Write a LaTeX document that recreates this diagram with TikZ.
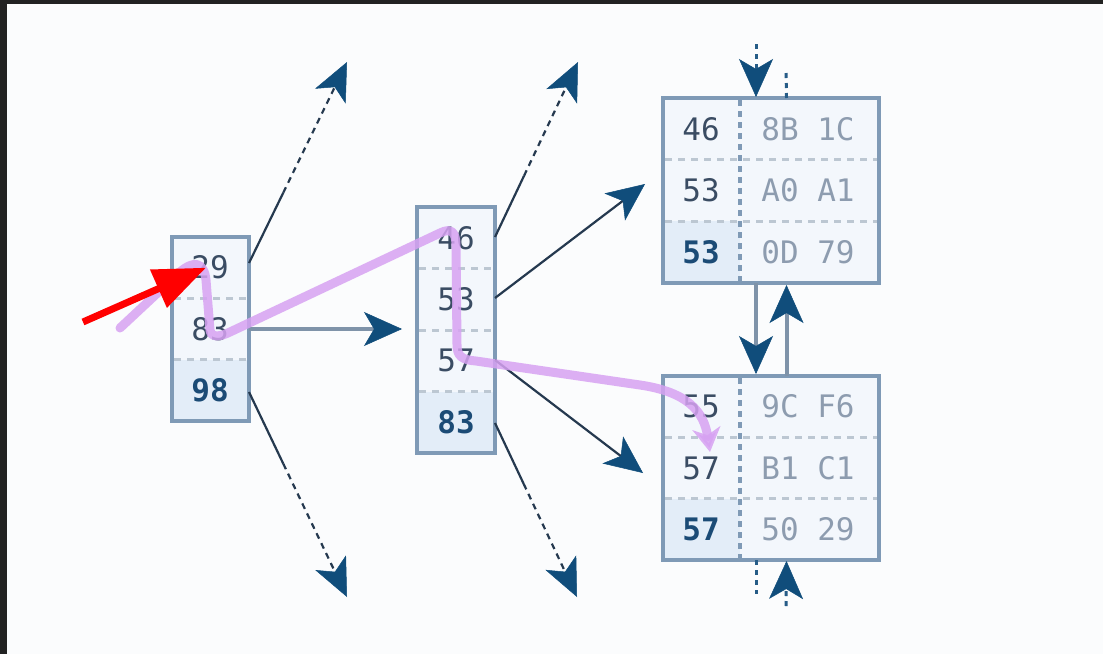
\documentclass[tikz,border=0pt]{standalone}
\usepackage{fontspec}
\usetikzlibrary{arrows.meta,calc}
\newfontfamily\keyfont{DejaVu Sans Mono}
\definecolor{bg}{HTML}{FBFCFD}
\definecolor{frame}{HTML}{222222}
\definecolor{boxline}{HTML}{7F9AB6}
\definecolor{boxfill}{HTML}{F3F7FC}
\definecolor{cellfill}{HTML}{E3EDF8}
\definecolor{sepline}{HTML}{BCC7D2}
\definecolor{keyc}{HTML}{3A4C63}
\definecolor{boldc}{HTML}{1B4B76}
\definecolor{hexc}{HTML}{8D9CAF}
\definecolor{linkc}{HTML}{25394F}
\definecolor{headc}{HTML}{104D7B}
\definecolor{shaftc}{HTML}{7F93A9}
\definecolor{pathc}{HTML}{D7A2F2}
\definecolor{markc}{HTML}{FF0000}
\begin{document}
\begin{tikzpicture}[x=1pt, y=-1pt,
  box/.style={fill=boxfill, inner sep=0pt, outer sep=0pt},
  boxedge/.style={draw=boxline, line width=3.5pt},
  key/.style={text=keyc, font=\keyfont\fontsize{31}{31}\selectfont, inner sep=0pt},
  boldkey/.style={key, text=boldc, font=\keyfont\bfseries\fontsize{31}{31}\selectfont},
  hex/.style={key, text=hexc},
  rowsep/.style={draw=sepline, line width=3pt, dash pattern=on 7pt off 6pt},
  colsep/.style={draw=boxline, line width=4pt, dash pattern=on 6pt off 5pt},
  tip/.style={-{Stealth[length=38pt, width=34pt, inset=10pt, line width=0.5pt, color=headc]}},
  link/.style={draw=linkc, line width=2.2pt},
  linkdash/.style={link, dash pattern=on 6pt off 5pt},
  shaft/.style={draw=shaftc, line width=4pt},
  ptr/.style={draw=headc!80!boxline, line width=3pt, dash pattern=on 5pt off 5pt},
  trail/.style={draw=pathc, line width=9pt, opacity=0.85, line cap=round, line join=round,
    -{Stealth[length=24pt, width=28pt, inset=7pt]}},
  pointer/.style={draw=markc, line width=7pt, -{Triangle[length=52pt, width=40pt]}}
]
% canvas with the dark frame on the top and left
\useasboundingbox (0,0) rectangle (1103,654);
\fill[frame] (0,0) rectangle (1103,654);
\fill[bg] (7,4) rectangle (1103,654);

% ---- boxes ----
\node[box, minimum width=77pt, minimum height=184pt] (L) at (210.5,329) {};
\node[box, minimum width=78pt, minimum height=246pt] (M) at (456,330) {};
\node[box, minimum width=216pt, minimum height=185pt] (TR) at (771,190.5) {};
\node[box, minimum width=216pt, minimum height=184pt] (BR) at (771,468) {};

% highlighted last-key cells
\fill[cellfill] (172,359.7) rectangle (249,421);
\fill[cellfill] (417,391.5) rectangle (495,453);
\fill[cellfill] (663,221.3) rectangle (740,283);
\fill[cellfill] (663,498.7) rectangle (740,560);

% row separators
\draw[rowsep] (174,298.3) -- (248,298.3);
\draw[rowsep] (174,359.7) -- (248,359.7);
\draw[rowsep] (419,268.5) -- (494,268.5);
\draw[rowsep] (419,330) -- (494,330);
\draw[rowsep] (419,391.5) -- (494,391.5);
\draw[rowsep] (665,159.7) -- (878,159.7);
\draw[rowsep] (665,221.3) -- (878,221.3);
\draw[rowsep] (665,437.3) -- (878,437.3);
\draw[rowsep] (665,498.7) -- (878,498.7);

% key / value column separators
\draw[colsep] (740,100) -- (740,282);
\draw[colsep] (740,378) -- (740,559);

% box outlines
\foreach \b in {L,M,TR,BR} \draw[boxedge] (\b.north west) rectangle (\b.south east);

% ---- keys ----
\node[key] (L1) at (210,267.7) {29};
\node[key] (L2) at (210,329) {83};
\node[boldkey] (L3) at (210,390.3) {98};

\node[key] (M1) at (456,237.8) {46};
\node[key] (M2) at (456,299.3) {53};
\node[key] (M3) at (456,360.8) {57};
\node[boldkey] (M4) at (456,422.3) {83};

\node[key] (T1) at (701,128.8) {46};
\node[key] (T2) at (701,190.5) {53};
\node[boldkey] (T3) at (701,252.2) {53};
\node[hex] (T1v) at (808,128.8) {8B 1C};
\node[hex] (T2v) at (808,190.5) {A0 A1};
\node[hex] (T3v) at (808,252.2) {0D 79};

\node[key] (B1) at (701,406.7) {55};
\node[key] (B2) at (701,468) {57};
\node[boldkey] (B3) at (701,529.3) {57};
\node[hex] (B1v) at (808,406.7) {9C F6};
\node[hex] (B2v) at (808,468) {B1 C1};
\node[hex] (B3v) at (808,529.3) {50 29};

% ---- child pointers ----
\coordinate (uL) at (347,62);
\coordinate (dL) at (347,597);
\coordinate (uM) at (578,62);
\coordinate (dM) at (577,597);
\coordinate (sL1) at ([yshift=-26pt]L.north east);
\coordinate (sL3) at ([yshift=29pt]L.south east);
\coordinate (sM1) at ([yshift=-30pt]M.north east);
\coordinate (sM4) at ([yshift=30pt]M.south east);

\draw[link] (sL1) -- ($(sL1)!0.35!(uL)$) coordinate (hL1);
\draw[linkdash, tip] (hL1) -- (uL);
\draw[link] (sL3) -- ($(sL3)!0.35!(dL)$) coordinate (hL3);
\draw[linkdash, tip] (hL3) -- (dL);
\draw[link] (sM1) -- ($(sM1)!0.35!(uM)$) coordinate (hM1);
\draw[linkdash, tip] (hM1) -- (uM);
\draw[link] (sM4) -- ($(sM4)!0.35!(dM)$) coordinate (hM4);
\draw[linkdash, tip] (hM4) -- (dM);

\draw[shaft, tip] (L.east) -- ($(M.west |- L.east)+(-15,0)$);
\draw[link, tip] ([yshift=32pt]M.east) -- ($(TR.west)+(-18,-6.5)$);
\draw[link, tip] ([yshift=-30pt]M.east) -- ($(BR.west)+(-20,5)$);

% ---- sibling links between leaves ----
\coordinate (cA) at (756,0);
\coordinate (cB) at (786.5,0);
\draw[shaft, tip] (TR.south -| cA) -- ($(BR.north -| cA)+(0,-2)$);
\draw[shaft, tip] (BR.north -| cB) -- ($(TR.south -| cB)+(0,2)$);

\coordinate (inTop) at (756,44);
\coordinate (outTop) at (786,70);
\coordinate (outBot) at (756,594);
\coordinate (inBot) at (786,606);
\draw[ptr, tip] (inTop) -- ($(TR.north -| cA)+(0,-1)$);
\draw[ptr] (TR.north -| cB) -- (outTop);
\draw[ptr] (BR.south -| cA) -- (outBot);
\draw[ptr, tip] (inBot) -- ($(BR.south -| cB)+(0,1)$);

% ---- search trail ----
\draw[trail] (120,328) -- (180,272)
  .. controls (194,260) and (204,262) .. (206,280)
  -- (210,330) .. controls (211,338) and (220,337) .. (230,332)
  -- (440,233) .. controls (452,227) and (456,233) .. (456,246)
  -- (457,345) .. controls (457,356) and (462,360) .. (476,361)
  -- (640,385) .. controls (688,392) and (704,412) .. (710,452);

% ---- marker ----
\draw[pointer] (83,322) -- ($(L1.center)+(-4,0)$);
\end{tikzpicture}
\end{document}
